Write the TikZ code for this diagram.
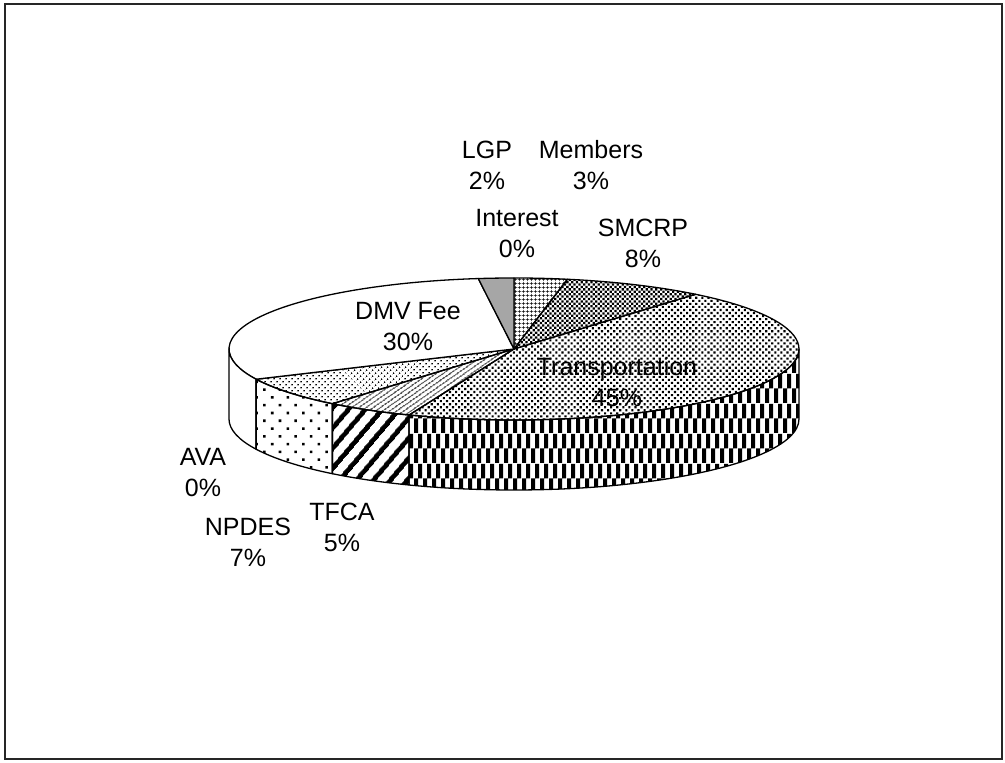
\documentclass[tikz,border=0pt]{standalone}
\usepackage{fontspec}
\setmainfont{Liberation Sans}
\usetikzlibrary{patterns,patterns.meta}

% tall offset blocks for the side of the big slice
\pgfdeclarepatternformonly{vbricks}{\pgfpointorigin}{\pgfpoint{9pt}{30pt}}{\pgfpoint{9pt}{30pt}}{
    \pgfpathrectangle{\pgfpointorigin}{\pgfpoint{4.5pt}{15pt}}
    \pgfpathrectangle{\pgfpoint{4.5pt}{15pt}}{\pgfpoint{4.5pt}{15pt}}
    \pgfusepath{fill}
}

\begin{document}
\begin{tikzpicture}[
    x=1pt, y=1pt,
    slice/.style={
        draw,
        line width=1.3pt,
        line join=round
    },
    members/.style={slice, pattern={Hatch[angle=0, distance=4pt, line width=0.9pt]}},
    smcrp/.style={slice, pattern={Dots[radius=1.6pt, distance=3.4pt, angle=45]}},
    transport/.style={slice, pattern={Dots[radius=1.5pt, distance=4.3pt, angle=45]}},
    transport side/.style={slice, pattern=vbricks},
    tfca/.style={slice, pattern={Lines[angle=35, distance=4pt, line width=1.4pt]}},
    tfca side/.style={slice, pattern={Lines[angle=50, distance=13pt, line width=5pt]}},
    npdes/.style={slice, pattern={Dots[radius=1pt, distance=4pt, angle=45]}},
    npdes side/.style={slice, pattern={Dots[radius=1.8pt, distance=11pt, angle=45]}},
    dmv/.style={slice, fill=white},
    lgp/.style={slice, fill=black!35},
    label/.style={
        align=center,
        font=\fontsize{25}{31}\selectfont
    }
]
    \useasboundingbox (0,0) rectangle (1005,763);
    \draw[line width=2.2pt, black!85] (5,4) rectangle (1002,759);

    % Pie
    \coordinate (c) at (514,414);

    % top faces
    \foreach \a/\b/\s in {90/79.2/members, 79.2/50.4/smcrp, 50.4/-111.6/transport,
                          -111.6/-129.6/tfca, -129.6/-154.8/npdes,
                          -154.8/-262.8/dmv, -262.8/-270/lgp}
        \path[\s] (c) -- ([shift={(c)}]\a:285pt and 71pt)
            arc[start angle=\a, end angle=\b, x radius=285pt, y radius=71pt] -- cycle;

    % front side
    \foreach \a/\b/\s in {-180/-154.8/dmv, -154.8/-129.6/npdes side,
                          -129.6/-111.6/tfca side, -111.6/0/transport side}
        \path[\s] ([shift={(c)}]\a:285pt and 71pt)
            arc[start angle=\a, end angle=\b, x radius=285pt, y radius=71pt]
            -- ++(0,-70)
            arc[start angle=\b, end angle=\a, x radius=285pt, y radius=71pt] -- cycle;

    % Labels
    \node[label] (lgp) at (487,597.5) {LGP\\2\%};
    \node[label] (members) at (591,597.5) {Members\\3\%};
    \node[label] (interest) at (517,529.5) {Interest\\0\%};
    \node[label] (smcrp) at (643,519.5) {SMCRP\\8\%};
    \node[label] (dmv) at (408,436) {DMV Fee\\30\%};
    \node[label] (transport) at (617,380.5) {Transportation\\45\%};
    \node[label] (ava) at (203,290) {AVA\\0\%};
    \node[label] (npdes) at (248,220.5) {NPDES\\7\%};
    \node[label] (tfca) at (342,236) {TFCA\\5\%};
\end{tikzpicture}
\end{document}
